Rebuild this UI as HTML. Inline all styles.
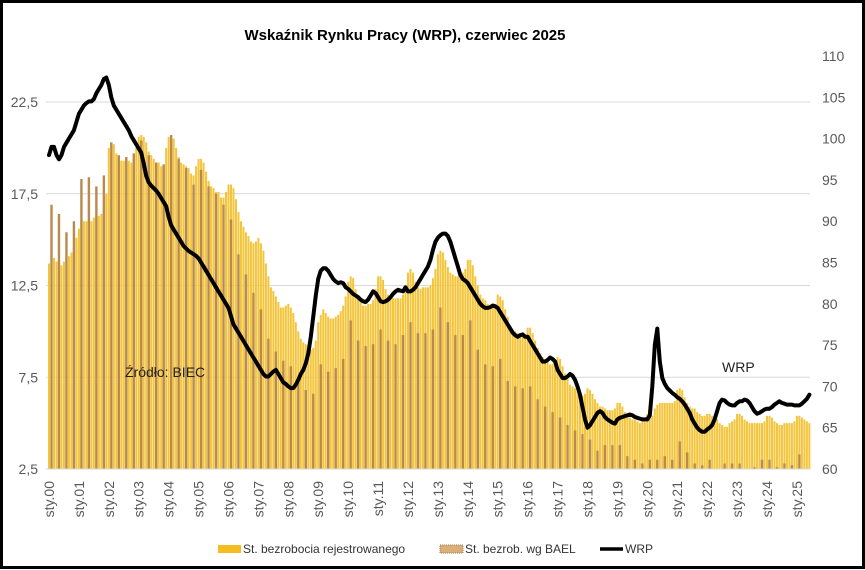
<!DOCTYPE html>
<html><head><meta charset="utf-8">
<style>
html,body{margin:0;padding:0;background:#fff;}
#wrap{position:relative;width:865px;height:570px;overflow:hidden;background:#fff;}
svg text{font-family:"Liberation Sans",sans-serif;}
</style></head>
<body>
<div id="wrap">
<svg id="chart" width="865" height="570" xmlns="http://www.w3.org/2000/svg">
<rect x="1.5" y="1.5" width="862" height="566" fill="#fff" stroke="#000" stroke-width="3"/>
<text x="405" y="40" text-anchor="middle" font-size="15" font-weight="bold" fill="#000">Wskaźnik Rynku Pracy (WRP), czerwiec 2025</text>
<g id="grid"></g><g id="bars"></g><g id="bael"></g><g id="line"></g><g id="axes"></g>
<text x="125" y="377" font-size="14" fill="#222">Źródło: BIEC</text>
<text x="722" y="372" font-size="14" fill="#222">WRP</text>
<g>
<rect x="218" y="545" width="23" height="8" fill="#f5bd1f"/>
<text x="243" y="553" font-size="12" fill="#333">St. bezrobocia rejestrowanego</text>
<rect x="440" y="545" width="23" height="8" fill="#d9b07a" stroke="#a8753e" stroke-width="1" stroke-dasharray="1,1"/>
<text x="465" y="553" font-size="12" fill="#333">St. bezrob. wg BAEL</text>
<line x1="600" y1="549" x2="623" y2="549" stroke="#000" stroke-width="3.5"/>
<text x="625" y="553" font-size="12" fill="#333">WRP</text>
</g>
</svg>
</div>
<script>
const registered = [
13.7,14.0,14.0,13.8,13.6,13.6,13.8,14.0,14.1,14.3,14.6,15.1,
15.6,15.9,16.0,16.0,15.9,16.0,16.2,16.3,16.3,16.4,16.7,17.5,
20.0,20.3,20.2,19.7,19.4,19.3,19.3,19.3,19.3,19.2,19.4,20.0,
20.6,20.7,20.6,20.3,19.8,19.6,19.4,19.2,19.2,19.0,19.1,20.0,
20.6,20.7,20.5,20.0,19.5,19.2,19.1,19.0,18.9,18.6,18.5,19.0,
19.4,19.4,19.2,18.7,18.2,17.9,17.8,17.6,17.6,17.3,17.3,17.6,
18.0,18.0,17.8,17.2,16.5,16.0,15.7,15.4,15.2,14.9,14.8,14.9,
15.1,14.8,14.4,13.7,13.0,12.4,12.2,11.9,11.6,11.3,11.3,11.4,
11.5,11.3,11.0,10.5,10.0,9.6,9.4,9.3,9.1,9.0,9.1,9.5,
10.5,10.9,11.2,11.0,10.8,10.7,10.7,10.8,10.9,11.1,11.4,11.9,
12.7,13.0,12.9,12.3,11.9,11.6,11.4,11.4,11.5,11.5,11.7,12.3,
13.0,13.0,12.8,12.3,12.0,11.8,11.8,11.8,11.8,11.8,12.0,12.5,
13.2,13.4,13.2,12.7,12.4,12.3,12.4,12.4,12.4,12.5,12.9,13.4,
14.2,14.4,14.3,13.9,13.5,13.2,13.1,13.0,13.0,13.0,13.2,13.4,
13.9,13.9,13.6,13.0,12.5,12.0,11.8,11.7,11.5,11.3,11.4,11.5,
12.0,11.9,11.7,11.2,10.8,10.3,10.1,10.0,9.9,9.7,9.7,9.8,
10.2,10.2,9.9,9.5,9.1,8.8,8.6,8.5,8.4,8.2,8.2,8.3,
8.6,8.5,8.1,7.7,7.4,7.1,7.0,6.9,6.8,6.6,6.5,6.6,
6.9,6.8,6.6,6.3,6.1,5.9,5.9,5.8,5.7,5.7,5.7,5.8,
6.1,6.1,5.9,5.6,5.4,5.3,5.2,5.2,5.1,5.0,5.1,5.2,
5.5,5.5,5.4,5.8,6.0,6.1,6.1,6.1,6.1,6.1,6.1,6.2,
6.8,6.9,6.8,6.4,6.1,5.9,5.8,5.8,5.6,5.5,5.4,5.4,
5.5,5.5,5.4,5.2,5.2,5.0,4.9,4.8,4.8,5.0,5.1,5.2,
5.5,5.5,5.4,5.2,5.1,5.0,5.0,5.0,5.0,5.0,5.0,5.1,
5.4,5.4,5.3,5.1,5.0,4.9,4.9,5.0,5.0,5.0,5.0,5.1,
5.4,5.4,5.3,5.2,5.1,5.0];
const bael = [
16.9,16.4,15.4,16.0, 18.3,18.4,17.9,18.5, 20.3,19.6,19.5,19.7, 20.4,19.6,19.2,19.1,
20.7,19.4,18.9,18.0, 18.8,17.9,17.5,16.9, 16.1,14.2,13.1,12.1, 11.2,9.6,8.9,8.4,
8.1,7.3,6.8,6.6, 8.2,7.8,8.0,8.5, 10.6,9.5,9.2,9.3, 10.1,9.5,9.3,9.8,
10.5,9.9,9.9,10.1, 11.3,10.5,9.8,9.8, 10.6,9.0,8.2,8.1, 8.5,7.3,7.0,6.9,
7.0,6.3,5.9,5.6, 5.3,4.9,4.6,4.4, 4.1,3.5,3.8,3.8, 3.8,3.2,3.0,2.8,
3.0,3.0,3.2,3.0, 4.0,3.4,2.8,2.7, 3.0,2.5,2.8,2.8, 2.8,2.5,2.6,3.0,
3.0,2.6,2.8,2.7, 3.3];
const wrp = [
98,99,99,98,97.5,98,99,99.5,100,100.5,101,102,
103,103.5,104,104.3,104.5,104.5,104.8,105.5,106,106.5,107.2,107.4,
106.5,105,104,103.5,103,102.5,102,101.5,101,100.3,99.8,99.3,
98.8,98.3,97,95.5,94.7,94.3,94,93.7,93.3,92.8,92.3,91.8,
90.5,89.5,89,88.5,88,87.5,87,86.7,86.4,86.2,86,85.8,
85.5,85,84.5,84,83.5,83,82.5,82,81.5,81,80.5,80,
79.5,78.5,77.5,77,76.5,76,75.5,75,74.5,74,73.5,73,
72.5,72,71.5,71.2,71.2,71.5,71.8,72,71.5,71,70.5,70.3,
70,69.8,69.8,70.2,70.8,71.5,72,72.8,74,76,78.5,81,
83,84,84.3,84.3,84,83.5,83,82.7,82.5,82.6,82.5,82,
81.8,81.5,81.2,81,80.8,80.5,80.3,80.2,80.5,81,81.5,81.3,
80.8,80.3,80.2,80.3,80.5,80.8,81.2,81.5,81.7,81.6,81.5,82,
81.5,81.5,81.7,82,82.5,83,83.5,84,84.5,85.3,86.5,87.5,
88,88.3,88.5,88.5,88.2,87.5,86.5,85.5,84.5,83.5,83,82.8,
82.5,82,81.5,81,80.5,80,79.7,79.5,79.5,79.6,79.8,79.7,
79.5,79,78.5,78,77.5,77,76.5,76.2,76,76.2,76.3,76,
76,75.5,75,74.5,74,73.5,73,73,73.2,73.5,73.3,73,
72,71.5,71,71,71.2,71.5,71.3,70.8,70,69,67.5,66,
65,65.3,65.8,66.3,66.8,67,66.8,66.3,66,65.8,65.6,65.5,
66,66.2,66.3,66.4,66.5,66.6,66.5,66.3,66.2,66.1,66,66,
66,66.5,70,75,77,73,71,70.3,69.8,69.5,69.2,69,
68.7,68.5,68.2,67.8,67.3,66.8,66,65.5,65,64.7,64.5,64.5,
64.8,65,65.3,66,67,68,68.4,68.3,68,67.8,67.7,67.7,
68,68.2,68.2,68.4,68.3,68,67.5,67,66.7,66.8,67,67.2,
67.3,67.3,67.5,67.8,68,68.2,68,67.9,67.8,67.8,67.8,67.7,
67.7,67.7,67.9,68.2,68.5,69];
const leftTicks = ["2,5","7,5","12,5","17,5","22,5"];
const leftTickValues = [2.5,7.5,12.5,17.5,22.5];
const rightTicks = [60,65,70,75,80,85,90,95,100,105,110];
const yearLabels = ["00","01","02","03","04","05","06","07","08","09","10","11","12","13","14","15","16","17","18","19","20","21","22","23","24","25"];

const NS="http://www.w3.org/2000/svg";
const base=469, pxL=18.35, pxR=8.26, x0=49, dx=2.493;
function xM(m){return x0+m*dx;}
function yL(v){return base-(v-2.5)*pxL;}
function yR(v){return base-(v-60)*pxR;}
function mk(tag,attrs,parent){const e=document.createElementNS(NS,tag);for(const k in attrs)e.setAttribute(k,attrs[k]);parent.appendChild(e);return e;}
const G=id=>document.getElementById(id);

leftTickValues.forEach((v,i)=>{
  if(i>0){const g=mk('line',{x1:46,x2:810,y1:yL(v),y2:yL(v),stroke:'#d9d9d9','stroke-width':1},G('grid'));
  
  }
  const t=mk('text',{x:38,y:yL(v)+5,'text-anchor':'end','font-size':14,fill:'#595959'},G('axes'));
  t.textContent=leftTicks[i];
  
  
});
rightTicks.forEach(v=>{
  const t=mk('text',{x:822,y:yR(v)+5,'font-size':14,fill:'#595959'},G('axes'));
  t.textContent=String(v);
  
  
});
const ax=mk('line',{x1:46,x2:810,y1:base,y2:base,stroke:'#d9d9d9','stroke-width':1},G('axes'));


yearLabels.forEach((y,i)=>{
  const cx=xM(i*12);
  const t=mk('text',{x:0,y:0,'font-size':14,fill:'#595959','text-anchor':'end',transform:`translate(${cx+5},${481}) rotate(-90)`},G('axes'));
  t.textContent='sty.'+y;
  
  
});
registered.forEach((v,i)=>{
  const y=yL(v);
  const r=mk('rect',{x:xM(i)-1.0,y:y,width:2.0,height:base-y,fill:'#f4c43a'},G('bars'));
  
  
});
bael.forEach((v,q)=>{
  const y=yL(v);
  const r=mk('rect',{x:xM(q*3+1)-1.2,y:y,width:2.4,height:base-y,fill:'#b98a4b'},G('bael'));
  
  
});
const pts=wrp.map((v,i)=>xM(i).toFixed(1)+','+yR(v).toFixed(1)).join(' ');
const pl=mk('polyline',{points:pts,fill:'none',stroke:'#000','stroke-width':4,'stroke-linejoin':'round','stroke-linecap':'round'},G('line'));


</script>
</body></html>
